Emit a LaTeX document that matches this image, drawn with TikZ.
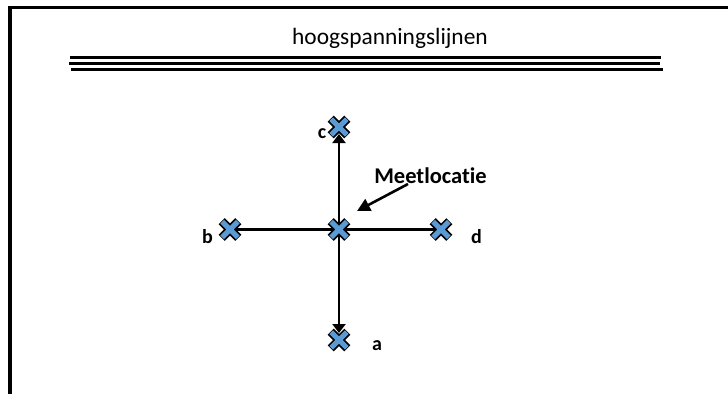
\documentclass[tikz,border=0pt]{standalone}
\usepackage{fontspec}
\setmainfont[Ligatures=NoCommon]{Carlito}
\usetikzlibrary{arrows.meta}
\definecolor{xblue}{HTML}{5B9BD5}
\tikzset{
  frameline/.style={line width=3.3pt, black},
  wirebar/.style={line width=3.4pt, black},
  conn/.style={line width=2.4pt, black},
  arr/.style={conn, -{Triangle[length=9pt,width=13pt]}},
  lbl/.style={font=\fontsize{20}{22}\selectfont\bfseries, inner sep=0pt, anchor=base},
  xcross/.pic={
    \draw[line width=8.5pt, black] (-8.3,-8.3) -- (8.3,8.3) (-8.3,8.3) -- (8.3,-8.3);
    \draw[line width=5pt, xblue] (-7.8,-7.8) -- (7.8,7.8) (-7.8,7.8) -- (7.8,-7.8);
  }
}
\begin{document}
\begin{tikzpicture}[x=1pt, y=-1pt]
\useasboundingbox (0,0) rectangle (728,394);
% frame
\coordinate (f1) at (10,394);
\coordinate (f2) at (10,6.05);
\coordinate (f0) at (8.35,7.7);
\coordinate (f3) at (728,7.7);
\draw[frameline] (f1) -- (f2);
\draw[frameline] (f0) -- (f3);
% title
\node[font=\fontsize{23.4}{25}\selectfont, inner sep=0pt, anchor=base] (title) at (390,44.5) {hoogspanningslijnen};
% power lines
\coordinate (w1a) at (70,57.7); \coordinate (w1b) at (661,57.7);
\coordinate (w2a) at (69,63.7); \coordinate (w2b) at (660,63.7);
\coordinate (w3a) at (71,69.5); \coordinate (w3b) at (663,69.5);
\draw[wirebar] (w1a) -- (w1b);
\draw[wirebar] (w2a) -- (w2b);
\draw[wirebar] (w3a) -- (w3b);
% points
\coordinate (m) at (339,229.5);
\coordinate (c) at (339,127);
\coordinate (a) at (339,340);
\coordinate (b) at (230,229.5);
\coordinate (d) at (441,229.5);
% connectors
\draw[arr, shorten >=7pt] (m) -- (c);
\draw[arr, shorten >=7pt] (m) -- (a);
\draw[conn] (m) -- (b);
\draw[conn] (m) -- (d);
% crosses
\foreach \p in {m,c,a,b,d} { \pic at (\p) {xcross}; }
% labels
\node[lbl] (lc) at (322,138) {c};
\node[lbl] (lb) at (207.5,243) {b};
\node[lbl] (ld) at (476.5,243) {d};
\node[lbl] (la) at (377,350) {a};
\node[lbl, font=\fontsize{22.5}{24}\selectfont\bfseries] (ml) at (430.5,183) {Meetlocatie};
\coordinate (mtail) at (408,184);
\coordinate (mtip) at (357,211);
\draw[line width=2.6pt, -{Triangle[length=13pt,width=13pt]}] (mtail) -- (mtip);
\end{tikzpicture}
\end{document}
